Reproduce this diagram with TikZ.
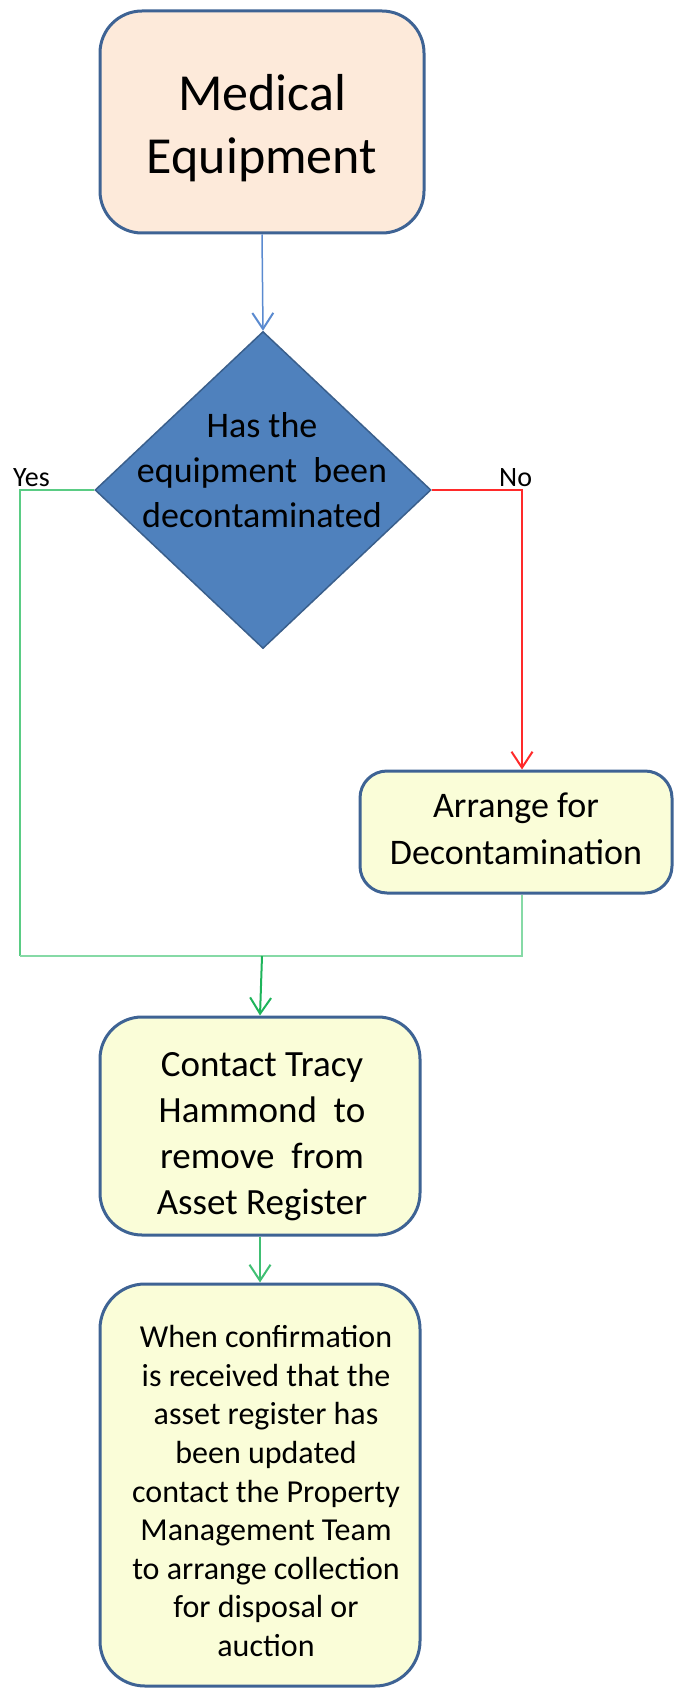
\documentclass[tikz,border=0pt]{standalone}
\usepackage{fontspec}
\setmainfont{Carlito}
\usetikzlibrary{shapes.geometric,arrows.meta}
\definecolor{peach}{HTML}{FDEADA}
\definecolor{boxborder}{HTML}{3E6394}
\definecolor{dfill}{HTML}{4F81BD}
\definecolor{dborder}{HTML}{3A5F8C}
\definecolor{pale}{HTML}{FAFDD8}
\definecolor{bluearrow}{HTML}{5A8AD0}
\definecolor{redline}{HTML}{FF2A2A}
\definecolor{greenline}{HTML}{5ACC84}
\definecolor{greenlight}{HTML}{86DAA6}
\definecolor{greenarrow}{HTML}{1EB45A}
\tikzset{
  flowbox/.style={draw=boxborder, line width=3pt, fill=pale, inner sep=0pt},
  txt/.style={align=center, inner sep=0pt, text=black},
  conn/.style={line width=2pt},
  tip/.style={-{Straight Barb[length=16pt,width=21pt,line width=2pt]}},
}
\begin{document}
\begin{tikzpicture}[x=1pt,y=-1pt]
\useasboundingbox (0,0) rectangle (674,1688);
% boxes
\node[flowbox, fill=peach, minimum width=324pt, minimum height=222pt, rounded corners=42pt] (b1) at (262,122) {};
\node[txt, font=\fontsize{52}{63}\selectfont] (t1) at (262,128) {Medical\\Equipment};
\node[diamond, draw=dborder, line width=1.5pt, fill=dfill, minimum width=336pt, minimum height=317pt, inner sep=0pt] (dec) at (263,490) {};
\node[txt, font=\fontsize{36}{45}\selectfont] (dt) at (262,470) {Has the\\equipment\ \ been\\decontaminated};
\node[flowbox, minimum width=312pt, minimum height=122pt, rounded corners=27pt] (b2) at (516,832) {};
\node[txt, font=\fontsize{36}{47}\selectfont] (t2) at (516,829) {Arrange for\\Decontamination};
\node[flowbox, minimum width=320pt, minimum height=218pt, rounded corners=42pt] (b3) at (260,1126) {};
\node[txt, font=\fontsize{37}{46}\selectfont] (t3) at (262,1137) {Contact Tracy\\Hammond\ \ to\\remove\ \ from\\Asset Register};
\node[flowbox, minimum width=320pt, minimum height=402pt, rounded corners=45pt] (b4) at (260,1485) {};
\node[txt, font=\fontsize{32}{38.6}\selectfont] (t4) at (266,1491) {When confirmation\\is received that the\\asset register has\\been updated\\contact the Property\\Management Team\\to arrange collection\\for disposal or\\auction};
% labels
\node[inner sep=0pt, anchor=base west, font=\fontsize{28}{32}\selectfont] (yes) at (13,486) {Yes};
\node[inner sep=0pt, anchor=base west, font=\fontsize{28}{32}\selectfont] (no) at (499,486) {No};
% coordinates
\coordinate (yc) at (20,956);
\coordinate (mc) at (262,956);
\coordinate (nc) at (522,956);
% connectors
\draw[conn, draw=bluearrow, tip, line width=1.5pt] (b1.south) -- (dec.north);
\draw[conn, draw=redline, tip] (dec.east) -| (nc |- b2.north);
\draw[conn, draw=greenline] (dec.west) -| (yc);
\draw[conn, draw=greenlight] (yc) -- (nc) -- (nc |- b2.south);
\draw[conn, draw=greenarrow, tip] (mc) -- (b3.north);
\draw[conn, draw=greenarrow!85!white, tip] (b3.south) -- (b4.north);
\end{tikzpicture}
\end{document}
